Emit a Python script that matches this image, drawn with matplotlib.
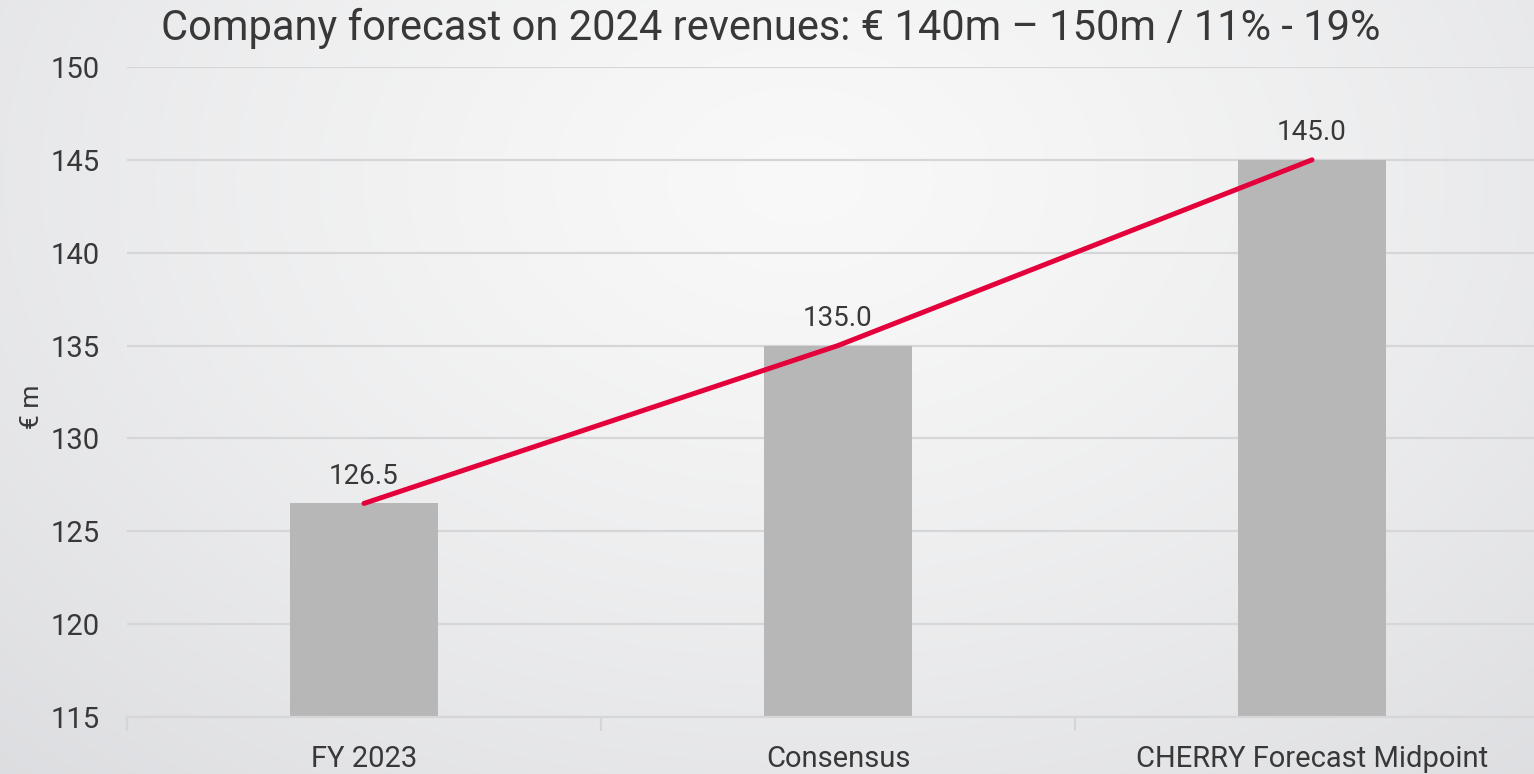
import numpy as np
import matplotlib
matplotlib.use("Agg")
import matplotlib.pyplot as plt
from matplotlib.ticker import MultipleLocator, FixedLocator

categories = ["FY 2023", "Consensus", "CHERRY Forecast Midpoint"]
revenues = [126.5, 135.0, 145.0]
title = "Company forecast on 2024 revenues: \u20ac 140m \u2013 150m / 11% - 19%"
ylabel = "\u20ac m"

plt.rcParams['font.family'] = ['Roboto', 'DejaVu Sans']
text_color = "#383838"
fw = 'normal'

W, H = 1534, 774
fig = plt.figure(figsize=(W / 100, H / 100), dpi=100)

# radial gradient background
bg = fig.add_axes([0, 0, 1, 1], zorder=-10)
yy, xx = np.mgrid[0:H, 0:W]
r = np.sqrt(((xx - 800) / 1000.0) ** 2 + ((yy - 180) / 700.0) ** 2)
r = np.clip(r / r.max(), 0, 1)
c0 = np.array([0.975, 0.975, 0.975])
c1 = np.array([0.865, 0.868, 0.880])
img = c0 + (c1 - c0) * (r[..., None] ** 1.3)
bg.imshow(img, aspect='auto', extent=[0, 1, 0, 1], origin='upper')
bg.axis('off')

ax = fig.add_axes([127 / W, 1 - 717 / H, 1422 / W, 650 / H])
ax.patch.set_alpha(0)
x = np.arange(len(categories))
ax.bar(x, revenues, width=0.312, color="#b7b7b7", zorder=2)
ax.plot(x, revenues, color="#e4003b", lw=3.6, solid_capstyle='round', zorder=3)
for xi, v in zip(x, revenues):
    ax.annotate(f"{v:.1f}", (xi, v), xytext=(0, 10), textcoords='offset points',
                ha='center', va='bottom', fontsize=20, color=text_color, fontweight=fw)

ax.set_xlim(-0.5, 2.5)
ax.set_ylim(115, 150)
ax.yaxis.set_major_locator(MultipleLocator(5))
ax.grid(axis='y', color="#d6d6d8", lw=1.6, zorder=0)
for s in ['top', 'right', 'left']:
    ax.spines[s].set_visible(False)
ax.spines['bottom'].set_color("#d6d6d8")
ax.spines['bottom'].set_linewidth(1.6)
ax.set_xticks(x)
ax.set_xticklabels(categories, fontsize=21, color=text_color, fontweight=fw)
ax.tick_params(axis='x', which='major', length=0, pad=20)
ax.xaxis.set_minor_locator(FixedLocator([-0.5, 0.5, 1.5, 2.5]))
ax.tick_params(axis='x', which='minor', length=10, width=1.6, color="#d6d6d8")
ax.tick_params(axis='y', length=0, labelsize=21, labelcolor=text_color, pad=20)
for lab in ax.get_yticklabels():
    lab.set_fontweight(fw)
ax.set_ylabel(ylabel, fontsize=19, color=text_color, fontweight=fw)
ax.yaxis.set_label_coords(-(127 - 44) / 1422, (717 - 407) / 650)

fig.text(771 / W, 1 - 28 / H, title, ha='center', va='center', fontsize=30,
         color=text_color, fontweight=fw)

fig.savefig("out.png", dpi=100)
